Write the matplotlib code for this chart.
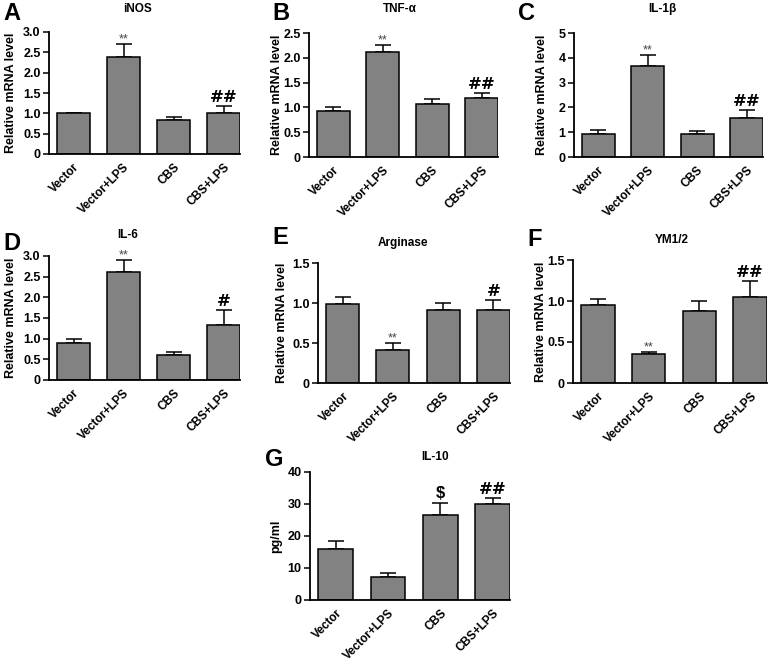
import matplotlib
matplotlib.use('Agg')
import matplotlib.pyplot as plt
from matplotlib.ticker import FixedLocator, FuncFormatter

plt.rcParams['font.family'] = ['Liberation Sans', 'DejaVu Sans']
plt.rcParams['font.weight'] = 'bold'

groups = ['Vector', 'Vector+LPS', 'CBS', 'CBS+LPS']

inos = [1.0, 2.39, 0.83, 1.0]
inos_err = [0.0, 0.31, 0.08, 0.17]
tnf = [0.93, 2.11, 1.06, 1.18]
tnf_err = [0.07, 0.14, 0.11, 0.12]
il1b = [0.94, 3.66, 0.93, 1.57]
il1b_err = [0.14, 0.47, 0.10, 0.34]
il6 = [0.89, 2.62, 0.60, 1.32]
il6_err = [0.09, 0.28, 0.08, 0.37]
arg = [0.99, 0.41, 0.91, 0.91]
arg_err = [0.08, 0.09, 0.09, 0.13]
ym = [0.95, 0.35, 0.88, 1.05]
ym_err = [0.07, 0.03, 0.12, 0.20]
il10 = [15.9, 7.3, 26.7, 30.1]
il10_err = [2.6, 1.0, 3.7, 1.8]

# panel: letter, title, values, errors, yticks, marks, ylabel
panels = [
    ('A', 'iNOS', inos, inos_err, [0, 0.5, 1.0, 1.5, 2.0, 2.5, 3.0], ['', '**', '', '##'], 'Relative mRNA level'),
    ('B', 'TNF-α', tnf, tnf_err, [0, 0.5, 1.0, 1.5, 2.0, 2.5], ['', '**', '', '##'], 'Relative mRNA level'),
    ('C', 'IL-1β', il1b, il1b_err, [0, 1, 2, 3, 4, 5], ['', '**', '', '##'], 'Relative mRNA level'),
    ('D', 'IL-6', il6, il6_err, [0, 0.5, 1.0, 1.5, 2.0, 2.5, 3.0], ['', '**', '', '#'], 'Relative mRNA level'),
    ('E', 'Arginase', arg, arg_err, [0, 0.5, 1.0, 1.5], ['', '**', '', '#'], 'Relative mRNA level'),
    ('F', 'YM1/2', ym, ym_err, [0, 0.5, 1.0, 1.5], ['', '**', '', '##'], 'Relative mRNA level'),
    ('G', 'IL-10', il10, il10_err, [0, 10, 20, 30, 40], ['', '', '$', '##'], 'pg/ml'),
]

W, H = 777, 662
# axes boxes in pixels: left, right, top, bottom
boxes = [(49, 240, 32, 154), (309, 498, 33, 157), (574, 763, 33, 157),
         (49, 240, 256, 380), (318, 510, 263, 383), (573, 767, 260, 383),
         (310, 510, 472, 600)]
letter_pos = [(3, 14), (272, 14), (518, 14), (3, 243), (272, 238), (527, 240), (265, 460)]
title_pos = [(137, 9), (400, 9), (662, 9), (128, 235), (403, 243), (672, 240), (435, 457)]
ylab_x = [11, 277, 542, 11, 282, 541, 276]

fig = plt.figure(figsize=(W / 100, H / 100), dpi=100)

for i, (letter, title, vals, errs, yt, marks, ylab) in enumerate(panels):
    l, r, t, b = boxes[i]
    ax = fig.add_axes([l / W, 1 - b / H, (r - l) / W, (b - t) / H])
    x = range(len(groups))
    ax.bar(x, vals, width=0.66, color='#828282', edgecolor='black', linewidth=1.1, zorder=2)
    ax.errorbar(x, vals, yerr=[[0] * 4, errs], fmt='none', ecolor='black',
                elinewidth=1.1, capsize=6, capthick=1.1, zorder=1)
    ax.set_xlim(-0.49, 3.33)
    ax.set_ylim(0, yt[-1])
    ax.yaxis.set_major_locator(FixedLocator(yt))
    ax.yaxis.set_major_formatter(FuncFormatter(
        lambda v, p, yt=yt: '0' if v == 0 else (f'{v:.1f}' if any(isinstance(q, float) for q in yt) else f'{v:g}')))
    ax.set_xticks(list(x))
    ax.set_xticklabels(groups, rotation=45, ha='right', rotation_mode='anchor', fontsize=8.5, fontweight='bold')
    ax.tick_params(axis='x', length=0, pad=5)
    ax.tick_params(axis='y', length=4, width=1.1, labelsize=9, pad=2)
    for lab in ax.get_yticklabels():
        lab.set_fontweight('bold')
    for s in ['top', 'right']:
        ax.spines[s].set_visible(False)
    for s in ['left', 'bottom']:
        ax.spines[s].set_linewidth(1.3)
    for j, m in enumerate(marks):
        if not m:
            continue
        top = vals[j] + errs[j]
        if m == '**':
            ax.annotate(m, (j, top), xytext=(0, -1), textcoords='offset points',
                        ha='center', va='bottom', fontsize=9, color='#444444', fontweight='normal')
        elif m == '$':
            ax.annotate(m, (j, top), xytext=(0, 1), textcoords='offset points',
                        ha='center', va='bottom', fontsize=12, fontweight='bold')
        else:
            ax.annotate(m, (j, top), xytext=(0, 0), textcoords='offset points',
                        ha='center', va='bottom', fontsize=12, fontweight='bold',
                        family=['DejaVu Serif'])
    lx, ly = letter_pos[i]
    fig.text(lx / W, 1 - ly / H, letter, fontsize=17, fontweight='bold', va='center', ha='left')
    tx, ty = title_pos[i]
    fig.text(tx / W, 1 - ty / H, title, fontsize=8.5, fontweight='bold', va='center', ha='center')
    fig.text(ylab_x[i] / W, 1 - (t + b) / 2 / H, ylab, fontsize=9, fontweight='bold',
             rotation=90, va='center', ha='center')

fig.savefig('out.png', dpi=100)
